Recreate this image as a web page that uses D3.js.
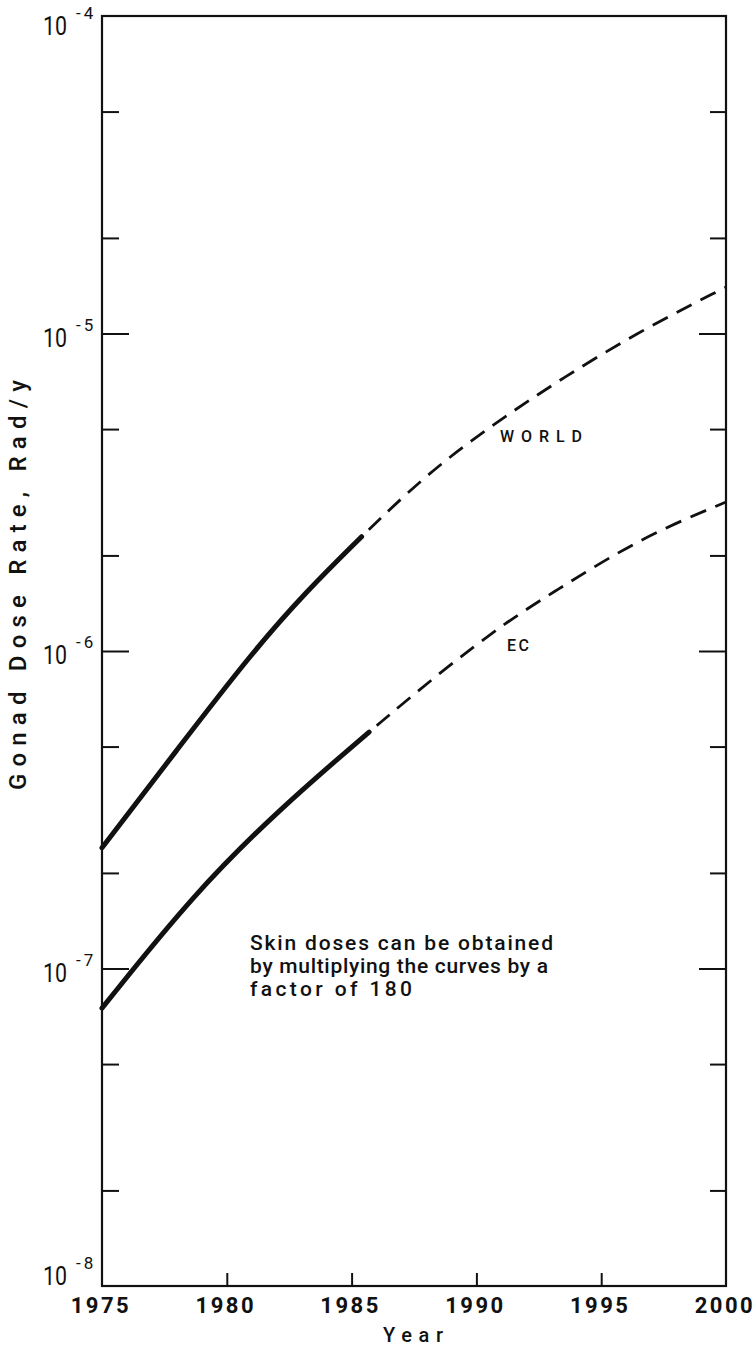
<!DOCTYPE html>
<html>
<head>
<meta charset="utf-8">
<script src="https://cdn.jsdelivr.net/npm/d3@7"></script>
<style>
  html, body { margin: 0; padding: 0; background: #fff; }
  svg { display: block; }
  text { font-family: Roboto, "Liberation Sans", "DejaVu Sans", sans-serif; fill: #111; }
</style>
</head>
<body>
<svg id="chart" width="756" height="1351"></svg>
<script>
// Gonad dose rate projections (Rad/y), log scale
const yearTicks = [1975, 1980, 1985, 1990, 1995, 2000];
const decadeExps = [-8, -7, -6, -5, -4];
const minorMultipliers = [2, 5];

// WORLD: solid (observed) then dashed (projected)
const worldSolidYears = [1975, 1978, 1981, 1983.2, 1985.4];
const worldSolidValues = [2.40e-7, 4.88e-7, 9.86e-7, 1.545e-6, 2.29e-6];
const worldDashYears = [1985.4, 1988, 1990.7, 1993.5, 1996.7, 2000];
const worldDashValues = [2.29e-6, 3.61e-6, 5.19e-6, 7.29e-6, 1.033e-5, 1.40e-5];

// EC: solid then dashed
const ecSolidYears = [1975, 1978.7, 1982.2, 1985.7];
const ecSolidValues = [7.5e-8, 1.729e-7, 3.226e-7, 5.556e-7];
const ecDashYears = [1985.7, 1988.5, 1991.3, 1993.3, 1995.4, 1997.6, 2000];
const ecDashValues = [5.556e-7, 8.52e-7, 1.252e-6, 1.568e-6, 1.991e-6, 2.458e-6, 2.946e-6];

const svg = d3.select("#chart");
const plotLeft = 102, plotRight = 726, plotTop = 16, plotBottom = 1286;

const x = d3.scaleLinear().domain([1975, 2000]).range([plotLeft, plotRight]);
const y = d3.scaleLog().domain([1e-8, 1e-4]).range([plotBottom, plotTop]);

// Frame
svg.append("rect")
  .attr("x", plotLeft).attr("y", plotTop)
  .attr("width", plotRight - plotLeft).attr("height", plotBottom - plotTop)
  .attr("fill", "none").attr("stroke", "#111").attr("stroke-width", 2.2);

// Y tick values
const decadeVals = decadeExps.map(e => Math.pow(10, e));
const minorVals = [];
decadeExps.slice(0, -1).forEach(e => minorMultipliers.forEach(m => minorVals.push(m * Math.pow(10, e))));

function drawYTicks(axisGen, xPos, vals, size) {
  const g = svg.append("g")
    .attr("transform", `translate(${xPos},0)`)
    .call(axisGen(y).tickValues(vals).tickSize(size).tickFormat(""));
  g.select(".domain").remove();
  g.selectAll("line").attr("stroke", "#111").attr("stroke-width", 2);
}
// inward ticks: left axis ticks point right, right axis ticks point left
drawYTicks(d3.axisLeft, plotLeft, minorVals, -17);
drawYTicks(d3.axisLeft, plotLeft, decadeVals.slice(1, -1), -27);
drawYTicks(d3.axisRight, plotRight, minorVals, -16);
drawYTicks(d3.axisRight, plotRight, decadeVals.slice(1, -1), -27);

// Decade labels 10^n, kept inside the frame's vertical span
const yl = svg.append("g");
decadeExps.forEach(e => {
  const yy = y(Math.pow(10, e));
  const base = Math.max(plotTop + 19, Math.min(plotBottom - 1, yy + 13));
  yl.append("text")
    .attr("x", 43).attr("y", base)
    .attr("font-size", 25)
    .attr("textLength", 24)
    .attr("lengthAdjust", "spacingAndGlyphs")
    .text("10");
  yl.append("text")
    .attr("x", 76).attr("y", base - 16)
    .attr("font-size", 17)
    .attr("letter-spacing", 3)
    .text("-" + Math.abs(e));
});

// X axis ticks (inward) and labels
const gx = svg.append("g")
  .attr("transform", `translate(0,${plotBottom})`)
  .call(d3.axisBottom(x).tickValues(yearTicks.slice(1, -1)).tickSize(-13).tickFormat(""));
gx.select(".domain").remove();
gx.selectAll("line").attr("stroke", "#111").attr("stroke-width", 2);

svg.append("g").selectAll("text")
  .data(yearTicks)
  .join("text")
  .attr("x", d => x(d) - 1)
  .attr("y", 1313)
  .attr("text-anchor", "middle")
  .attr("font-size", 22)
  .attr("font-weight", "bold")
  .attr("letter-spacing", 2.5)
  .text(d => d);

svg.append("text")
  .attr("x", 383).attr("y", 1342)
  .attr("font-size", 20)
  .attr("font-weight", 500)
  .attr("textLength", 60)
  .attr("lengthAdjust", "spacing")
  .text("Year");

svg.append("text")
  .attr("transform", "translate(26,790) rotate(-90)")
  .attr("font-size", 24)
  .attr("font-weight", 500)
  .attr("textLength", 410)
  .attr("lengthAdjust", "spacing")
  .text("Gonad  Dose Rate, Rad/y");

// Curves
const line = d3.line()
  .x(d => x(d[0]))
  .y(d => y(d[1]))
  .curve(d3.curveBasis);

function series(years, values) { return years.map((yr, i) => [yr, values[i]]); }

const curves = svg.append("g").attr("fill", "none").attr("stroke", "#111");
curves.append("path")
  .attr("d", line(series(worldSolidYears, worldSolidValues)))
  .attr("stroke-width", 5).attr("stroke-linecap", "round");
curves.append("path")
  .attr("d", line(series(ecSolidYears, ecSolidValues)))
  .attr("stroke-width", 5).attr("stroke-linecap", "round");
curves.append("path")
  .attr("d", line(series(worldDashYears, worldDashValues)))
  .attr("stroke-width", 2.8)
  .attr("stroke-dasharray", "17 10")
  .attr("stroke-dashoffset", 17);
curves.append("path")
  .attr("d", line(series(ecDashYears, ecDashValues)))
  .attr("stroke-width", 2.8)
  .attr("stroke-dasharray", "17 10")
  .attr("stroke-dashoffset", 17);

// Series labels
svg.append("text")
  .attr("x", 500).attr("y", 442)
  .attr("font-size", 16)
  .attr("font-weight", 500)
  .attr("textLength", 82)
  .attr("lengthAdjust", "spacing")
  .text("WORLD");
svg.append("text")
  .attr("x", 507).attr("y", 651)
  .attr("font-size", 16)
  .attr("font-weight", 500)
  .attr("textLength", 22)
  .attr("lengthAdjust", "spacing")
  .text("EC");

// Note
const note = svg.append("g").attr("font-size", 21).attr("font-weight", 500);
note.append("text").attr("x", 250).attr("y", 950)
  .attr("textLength", 303).attr("lengthAdjust", "spacing")
  .text("Skin doses can be obtained");
note.append("text").attr("x", 250).attr("y", 973)
  .attr("textLength", 298).attr("lengthAdjust", "spacing")
  .text("by multiplying the curves by a");
note.append("text").attr("x", 250).attr("y", 996)
  .attr("textLength", 162).attr("lengthAdjust", "spacing")
  .text("factor of 180");
</script>
</body>
</html>
